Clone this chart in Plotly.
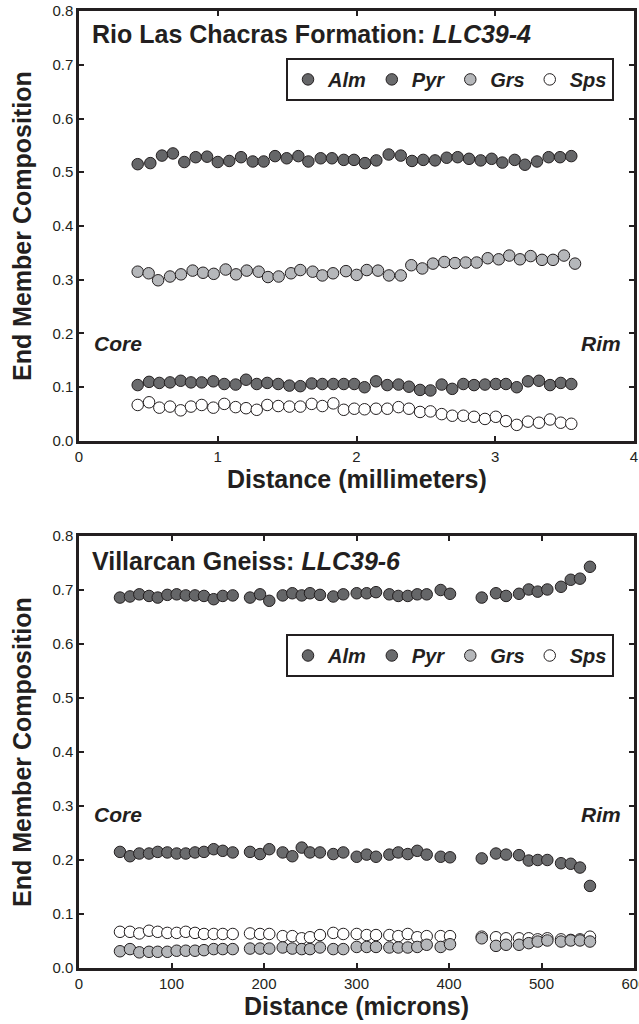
import plotly.graph_objects as go

# ---- Rio Las Chacras Formation, sample LLC39-4 (distance in mm) ----
top_x_alm = [0.423, 0.514, 0.598, 0.677, 0.759, 0.841, 0.923, 1.000, 1.083, 1.168,
             1.252, 1.331, 1.413, 1.497, 1.581, 1.653, 1.742, 1.823, 1.908, 1.982,
             2.061, 2.143, 2.232, 2.319, 2.400, 2.481, 2.566, 2.650, 2.729, 2.811,
             2.895, 2.974, 3.051, 3.140, 3.214, 3.301, 3.385, 3.467, 3.548]
top_alm = [0.515, 0.517, 0.531, 0.535, 0.519, 0.528, 0.529, 0.519, 0.521, 0.528,
           0.520, 0.520, 0.530, 0.526, 0.530, 0.520, 0.526, 0.526, 0.523, 0.523,
           0.517, 0.522, 0.533, 0.531, 0.521, 0.523, 0.522, 0.527, 0.528, 0.525,
           0.522, 0.525, 0.518, 0.523, 0.514, 0.520, 0.528, 0.528, 0.530]

top_x_grs = [0.423, 0.502, 0.570, 0.656, 0.735, 0.819, 0.894, 0.971, 1.057, 1.132,
             1.209, 1.295, 1.362, 1.439, 1.528, 1.595, 1.684, 1.754, 1.831, 1.924,
             2.001, 2.074, 2.155, 2.234, 2.319, 2.395, 2.474, 2.551, 2.633, 2.710,
             2.787, 2.866, 2.946, 3.025, 3.101, 3.178, 3.255, 3.337, 3.416, 3.495,
             3.575]
top_grs = [0.315, 0.312, 0.299, 0.306, 0.310, 0.317, 0.313, 0.311, 0.319, 0.310,
           0.317, 0.315, 0.305, 0.306, 0.312, 0.318, 0.315, 0.308, 0.312, 0.316,
           0.309, 0.318, 0.317, 0.308, 0.308, 0.327, 0.321, 0.330, 0.333, 0.331,
           0.332, 0.332, 0.340, 0.338, 0.345, 0.338, 0.344, 0.337, 0.337, 0.345,
           0.330]

top_x = [0.423, 0.505, 0.579, 0.656, 0.733, 0.807, 0.884, 0.968, 1.047, 1.129,
         1.204, 1.281, 1.357, 1.436, 1.516, 1.595, 1.677, 1.754, 1.833, 1.908,
         1.984, 2.058, 2.141, 2.222, 2.303, 2.378, 2.458, 2.533, 2.614, 2.690,
         2.770, 2.847, 2.926, 3.004, 3.077, 3.155, 3.236, 3.315, 3.395, 3.472,
         3.548]
top_pyr = [0.104, 0.110, 0.108, 0.109, 0.112, 0.109, 0.109, 0.111, 0.106, 0.105,
           0.114, 0.106, 0.108, 0.106, 0.103, 0.102, 0.107, 0.106, 0.106, 0.106,
           0.106, 0.100, 0.111, 0.104, 0.105, 0.101, 0.095, 0.094, 0.105, 0.097,
           0.106, 0.104, 0.105, 0.106, 0.106, 0.100, 0.111, 0.112, 0.104, 0.108,
           0.106]
top_sps = [0.067, 0.072, 0.062, 0.064, 0.057, 0.064, 0.067, 0.062, 0.069, 0.063,
           0.061, 0.058, 0.067, 0.065, 0.064, 0.064, 0.069, 0.065, 0.070, 0.058,
           0.060, 0.059, 0.060, 0.060, 0.063, 0.060, 0.054, 0.055, 0.050, 0.047,
           0.047, 0.045, 0.041, 0.045, 0.037, 0.030, 0.036, 0.034, 0.040, 0.034,
           0.032]

# ---- Villarcan Gneiss, sample LLC39-6 (distance in microns) ----
bot_x = [44.3, 55.1, 65.2, 75.7, 85.1, 95.5, 105.6, 115.4, 125.4, 135.1,
         145.6, 155.4, 166.2, 184.9, 195.7, 205.7, 220.2, 230.6, 240.8, 249.7,
         260.5, 274.9, 285.7, 300.2, 311.0, 321.1, 335.5, 345.2, 355.4, 365.7,
         375.9, 391.0, 401.1, 435.4, 450.8, 461.7, 475.7, 486.2, 495.9, 506.3,
         521.1, 531.6, 541.6, 552.4]
bot_alm = [0.686, 0.688, 0.692, 0.689, 0.686, 0.691, 0.692, 0.690, 0.690, 0.689,
           0.683, 0.689, 0.690, 0.686, 0.692, 0.680, 0.690, 0.694, 0.690, 0.694,
           0.691, 0.688, 0.692, 0.694, 0.694, 0.696, 0.692, 0.689, 0.689, 0.692,
           0.692, 0.700, 0.693, 0.686, 0.694, 0.689, 0.693, 0.701, 0.697, 0.701,
           0.706, 0.719, 0.721, 0.743]
bot_pyr = [0.215, 0.207, 0.212, 0.212, 0.215, 0.214, 0.212, 0.212, 0.214, 0.215,
           0.220, 0.217, 0.214, 0.215, 0.211, 0.220, 0.214, 0.207, 0.223, 0.214,
           0.214, 0.211, 0.214, 0.206, 0.210, 0.206, 0.210, 0.214, 0.211, 0.217,
           0.210, 0.206, 0.205, 0.203, 0.212, 0.210, 0.209, 0.199, 0.200, 0.200,
           0.194, 0.193, 0.186, 0.152]
bot_grs = [0.031, 0.035, 0.029, 0.030, 0.030, 0.030, 0.032, 0.032, 0.032, 0.033,
           0.035, 0.035, 0.035, 0.036, 0.036, 0.036, 0.038, 0.036, 0.035, 0.035,
           0.038, 0.035, 0.035, 0.039, 0.039, 0.039, 0.038, 0.038, 0.038, 0.039,
           0.043, 0.039, 0.044, 0.055, 0.041, 0.043, 0.043, 0.046, 0.049, 0.051,
           0.049, 0.051, 0.051, 0.049]
bot_sps = [0.067, 0.067, 0.064, 0.069, 0.067, 0.065, 0.065, 0.067, 0.065, 0.063,
           0.063, 0.063, 0.063, 0.064, 0.063, 0.063, 0.059, 0.059, 0.055, 0.057,
           0.061, 0.065, 0.063, 0.063, 0.061, 0.061, 0.061, 0.059, 0.063, 0.057,
           0.059, 0.059, 0.059, 0.058, 0.057, 0.055, 0.055, 0.055, 0.053, 0.055,
           0.053, 0.052, 0.053, 0.058]

y_ticks = [0.0, 0.1, 0.2, 0.3, 0.4, 0.5, 0.6, 0.7, 0.8]
y_tick_text = ["0.0", "0.1", "0.2", "0.3", "0.4", "0.5", "0.6", "0.7", "0.8"]
top_x_ticks = [0, 1, 2, 3, 4]
bot_x_ticks = [0, 100, 200, 300, 400, 500, 600]

INK = "#231f20"
FILL = {"Alm": "#656668", "Pyr": "#6a6b6d", "Grs": "#b5b7ba", "Sps": "#ffffff"}
RANK = {"Alm": 1, "Pyr": 2, "Grs": 3, "Sps": 4}
FONT = "Liberation Sans, Arial, Helvetica, sans-serif"
MSIZE = 11.5

fig = go.Figure()


def add_series(name, xs, ys, xa, ya, legend):
    fig.add_trace(go.Scatter(
        x=xs, y=ys, mode="markers", name=name, xaxis=xa, yaxis=ya,
        legend=legend, legendrank=RANK[name],
        marker=dict(size=MSIZE, color=FILL[name], line=dict(color=INK, width=1)),
        hoverinfo="x+y+name",
    ))


# Sps drawn before Grs so grey markers sit on top where they overlap
add_series("Alm", top_x_alm, top_alm, "x", "y", "legend")
add_series("Pyr", top_x, top_pyr, "x", "y", "legend")
add_series("Sps", top_x, top_sps, "x", "y", "legend")
add_series("Grs", top_x_grs, top_grs, "x", "y", "legend")

add_series("Alm", bot_x, bot_alm, "x2", "y2", "legend2")
add_series("Pyr", bot_x, bot_pyr, "x2", "y2", "legend2")
add_series("Sps", bot_x, bot_sps, "x2", "y2", "legend2")
add_series("Grs", bot_x, bot_grs, "x2", "y2", "legend2")

axis_common = dict(
    showline=True, linecolor=INK, linewidth=2.5, mirror="allticks",
    ticks="inside", ticklen=5, tickwidth=2, tickcolor=INK,
    showgrid=False, zeroline=False, ticklabeloverflow="allow",
    automargin=False,
    tickfont=dict(family=FONT, size=15, color=INK),
)

legend_common = dict(
    orientation="h", xanchor="left", yanchor="top",
    bordercolor=INK, borderwidth=2, bgcolor="white",
    font=dict(family=FONT, size=20, color=INK, weight="bold", style="italic"),
    itemsizing="trace", traceorder="normal",
)

fig.update_layout(
    width=639, height=1024,
    margin=dict(l=79, r=5, t=11, b=56, autoexpand=False),
    paper_bgcolor="white", plot_bgcolor="white",
    showlegend=True,
    xaxis=dict(domain=[0, 1], range=[0, 4], tickvals=top_x_ticks,
               anchor="y", **axis_common),
    yaxis=dict(domain=[0.5507, 1], range=[0, 0.8], tickvals=y_ticks,
               ticktext=y_tick_text, anchor="x", **axis_common),
    xaxis2=dict(domain=[0, 1], range=[0, 600], tickvals=bot_x_ticks,
                anchor="y2", **axis_common),
    yaxis2=dict(domain=[0, 0.4514], range=[0, 0.8], tickvals=y_ticks,
                ticktext=y_tick_text, anchor="x2", **axis_common),
    legend=dict(x=0.373, y=0.951, **legend_common),
    legend2=dict(x=0.373, y=0.349, **legend_common),
)

annotations = []
# panel titles
for ytop, label in [(0.976, "<b>Rio Las Chacras Formation: <i>LLC39-4</i></b>"),
                    (0.4253, "<b>Villarcan Gneiss: <i>LLC39-6</i></b>")]:
    annotations.append(dict(
        xref="paper", yref="paper", x=0.0198, y=ytop, xanchor="left", yanchor="middle",
        text=label, showarrow=False, font=dict(family=FONT, size=25, color=INK)))

# core / rim markers
for xa, ya, xc, xr, yv in [("x", "y", 0.094, 3.92, 0.181), ("x2", "y2", 14, 588, 0.285)]:
    annotations.append(dict(xref=xa, yref=ya, x=xc, y=yv, xanchor="left", yanchor="middle",
                            text="<b><i>Core</i></b>", showarrow=False,
                            font=dict(family=FONT, size=21, color=INK)))
    annotations.append(dict(xref=xa, yref=ya, x=xr, y=yv, xanchor="right", yanchor="middle",
                            text="<b><i>Rim</i></b>", showarrow=False,
                            font=dict(family=FONT, size=21, color=INK)))

# axis titles
for yc in [0.7753, 0.2257]:
    annotations.append(dict(xref="paper", yref="paper", x=-0.1027, y=yc,
                            xanchor="center", yanchor="middle", textangle=-90,
                            text="<b>End Member Composition</b>", showarrow=False,
                            font=dict(family=FONT, size=25, color=INK)))
for yc, label in [(0.511, "<b>Distance (millimeters)</b>"),
                  (-0.0397, "<b>Distance (microns)</b>")]:
    annotations.append(dict(xref="paper", yref="paper", x=0.5, y=yc,
                            xanchor="center", yanchor="middle",
                            text=label, showarrow=False,
                            font=dict(family=FONT, size=25, color=INK)))

fig.update_layout(annotations=annotations)

fig.write_html("out.html")
